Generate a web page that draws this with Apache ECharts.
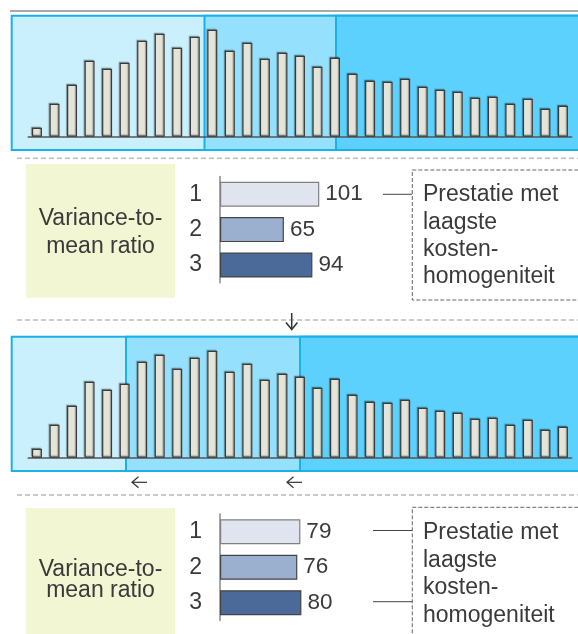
<!DOCTYPE html>
<html>
<head>
<meta charset="utf-8">
<script src="https://cdn.jsdelivr.net/npm/echarts@6/dist/echarts.min.js"></script>
<style>
html,body{margin:0;padding:0;background:#fff;}
#chart{width:578px;height:634px;}
</style>
</head>
<body>
<div id="chart"></div>
<script>
// ---- data ----
const periods = ['1','2','3','4','5','6','7','8','9','10','11','12','13','14','15','16','17','18','19','20','21','22','23','24','25','26','27','28','29','30','31'];
const costValues = [9, 33, 52, 76, 68, 74, 96, 103, 89, 100, 107, 86, 94, 78, 84, 81, 70, 79, 63, 56, 55, 58, 50, 47, 45, 39, 40, 33, 38, 28, 31];
const rankLabels = ['1', '2', '3'];
const vmrBefore = [101, 65, 94];
const vmrAfter = [79, 76, 80];
const vmrTitle = 'Variance-to-\nmean ratio';
const noteText = 'Prestatie met\nlaagste\nkosten-\nhomogeniteit';

// ---- styles ----
const rankColors = ['#dfe4ee', '#9bb0cf', '#4b6a99'];
const rankBorders = ['#808080', '#444444', '#444444'];
const FONT = 'Liberation Sans, Arial, sans-serif';
const TXT = '#3a3a3a';

const chart = echarts.init(document.getElementById('chart'), null, {renderer: 'canvas'});

function costSeries(idx) {
  return {
    type: 'bar', xAxisIndex: idx, yAxisIndex: idx,
    data: costValues, barWidth: 10, silent: true,
    itemStyle: {color: '#e4e4d8', borderColor: '#3a3a3a', borderWidth: 1.2,
      shadowColor: 'rgba(0,0,0,0.3)', shadowOffsetX: -1, shadowOffsetY: -1, shadowBlur: 1}
  };
}
function vmrSeries(idx, values) {
  return {
    type: 'bar', xAxisIndex: idx, yAxisIndex: idx, silent: true,
    barWidth: 25,
    data: values.map((v, i) => ({value: v, itemStyle: {color: rankColors[i], borderColor: rankBorders[i], borderWidth: 1.2}})),
    label: {show: true, position: 'right', distance: 6, fontSize: 22.5, color: TXT, fontFamily: FONT}
  };
}
function costX(idx) {
  return {gridIndex: idx, type: 'category', data: periods, boundaryGap: true,
    axisLine: {show: true, lineStyle: {color: '#555', width: 1.5}}, axisTick: {show: false}, axisLabel: {show: false}, splitLine: {show: false}};
}
function costY(idx) {
  return {gridIndex: idx, type: 'value', min: 0, max: 120, show: false, splitLine: {show: false}};
}
function vmrX(idx, max) {
  return {gridIndex: idx, type: 'value', min: 0, max: max, show: false, splitLine: {show: false}};
}
function vmrY(idx) {
  return {gridIndex: idx, type: 'category', data: rankLabels, inverse: true,
    axisLine: {show: true, lineStyle: {color: '#888', width: 1.5}}, axisTick: {show: false},
    axisLabel: {fontSize: 23, color: TXT, margin: 18, fontFamily: FONT}};
}

const dashStyle = {stroke: '#bbb', lineWidth: 1.5, lineDash: [5, 3]};
function hline(x1, x2, y, style, z) {
  return {type: 'line', shape: {x1: x1, y1: y, x2: x2, y2: y}, style: style, z: z || 5, silent: true};
}
function rect(x, y, w, h, fill, stroke, z) {
  return {type: 'rect', shape: {x: x, y: y, width: w, height: h}, style: {fill: fill, stroke: stroke || null, lineWidth: stroke ? 2 : 0}, z: z, silent: true};
}
const blue = '#19b1e9';
const graphics = [
  hline(10, 578, 11, {stroke: '#aaa', lineWidth: 2}),
  // top panel
  rect(11.7, 15.7, 600, 134.3, '#caf0fe', blue, -3),
  rect(204.5, 15.7, 400, 134.3, '#95e1fd', blue, -2),
  rect(336, 15.7, 300, 134.3, '#5dd1fd', blue, -1),
  hline(17, 578, 158.3, dashStyle),
  // first info block
  rect(26, 164, 149, 133.7, '#f2f6d3', null, -1),
  {type: 'text', x: 100.5, y: 232.7, style: {text: vmrTitle, font: '23px ' + FONT, fill: TXT, align: 'center', verticalAlign: 'middle', lineHeight: 27.3}, z: 5, silent: true},
  {type: 'rect', shape: {x: 412.3, y: 170, width: 200, height: 130}, style: {fill: null, stroke: '#666', lineWidth: 1, lineDash: [4, 2]}, z: 5, silent: true},
  hline(383, 412, 194.3, {stroke: '#444', lineWidth: 1}),
  {type: 'text', x: 423, y: 181.6, style: {text: noteText, font: '23px ' + FONT, fill: TXT, align: 'left', verticalAlign: 'top', lineHeight: 27.1}, z: 5, silent: true},
  hline(17, 578, 320, dashStyle),
  // down arrow
  {type: 'line', shape: {x1: 291.7, y1: 313, x2: 291.7, y2: 329}, style: {stroke: '#333', lineWidth: 1.5}, z: 6, silent: true},
  {type: 'polyline', shape: {points: [[286, 322.5], [291.7, 329.5], [297.4, 322.5]]}, style: {stroke: '#333', lineWidth: 1.5, fill: null}, z: 6, silent: true},
  // bottom panel
  rect(11.7, 336.7, 600, 134.3, '#caf0fe', blue, -3),
  rect(126, 336.7, 500, 134.3, '#95e1fd', blue, -2),
  rect(300, 336.7, 300, 134.3, '#5dd1fd', blue, -1),
  // left arrows
  hline(132, 147, 482.3, {stroke: '#333', lineWidth: 1.2}),
  {type: 'polyline', shape: {points: [[138.5, 476.8], [132, 482.3], [138.5, 487.8]]}, style: {stroke: '#333', lineWidth: 1.2, fill: null}, z: 6, silent: true},
  hline(287, 302, 482.3, {stroke: '#333', lineWidth: 1.2}),
  {type: 'polyline', shape: {points: [[293.5, 476.8], [287, 482.3], [293.5, 487.8]]}, style: {stroke: '#333', lineWidth: 1.2, fill: null}, z: 6, silent: true},
  hline(17, 578, 495, dashStyle),
  // second info block
  rect(26, 508.3, 149, 140, '#f2f6d3', null, -1),
  {type: 'text', x: 100.5, y: 580.2, style: {text: vmrTitle, font: '23px ' + FONT, fill: TXT, align: 'center', verticalAlign: 'middle', lineHeight: 21}, z: 5, silent: true},
  {type: 'rect', shape: {x: 412.3, y: 507.3, width: 200, height: 160}, style: {fill: null, stroke: '#666', lineWidth: 1, lineDash: [4, 2]}, z: 5, silent: true},
  hline(373, 412, 530.5, {stroke: '#444', lineWidth: 1}),
  hline(373, 412, 601.7, {stroke: '#444', lineWidth: 1}),
  {type: 'text', x: 423, y: 518.5, style: {text: noteText, font: '23px ' + FONT, fill: TXT, align: 'left', verticalAlign: 'top', lineHeight: 27.8}, z: 5, silent: true}
];

const option = {
  animation: false,
  backgroundColor: '#fff',
  grid: [
    {left: 28.2, top: 16.7, width: 543.5, height: 120},
    {left: 28.2, top: 337.7, width: 543.5, height: 120},
    {left: 220, top: 176.5, width: 200, height: 106.2},
    {left: 220, top: 514, width: 200, height: 106.5}
  ],
  xAxis: [costX(0), costX(1), vmrX(2, 203.5), vmrX(3, 196.6)],
  yAxis: [costY(0), costY(1), vmrY(2), vmrY(3)],
  series: [costSeries(0), costSeries(1), vmrSeries(2, vmrBefore), vmrSeries(3, vmrAfter)],
  graphic: graphics
};
chart.setOption(option);
</script>
</body>
</html>
